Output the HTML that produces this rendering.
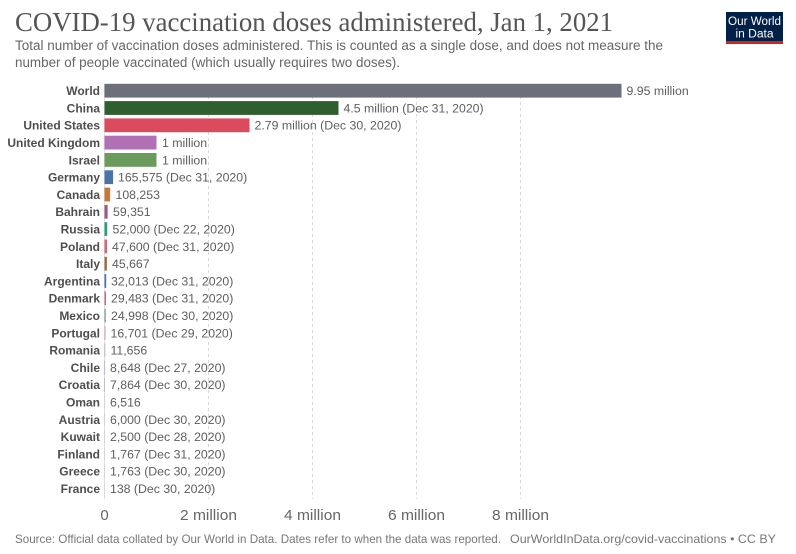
<!DOCTYPE html>
<html><head><meta charset="utf-8"><style>
html,body{margin:0;padding:0;background:#fff;}
svg{display:block;}
</style></head><body>
<svg width="796" height="554" viewBox="0 0 796 554" xmlns="http://www.w3.org/2000/svg">
<rect width="796" height="554" fill="#fff"/>
<text x="15" y="31" font-family="Liberation Serif, serif" font-size="27" fill="#555" textLength="598" lengthAdjust="spacingAndGlyphs">COVID-19 vaccination doses administered, Jan 1, 2021</text>
<text x="15" y="50" font-family="Liberation Sans, sans-serif" font-size="13.5" fill="#666" textLength="648" lengthAdjust="spacingAndGlyphs">Total number of vaccination doses administered. This is counted as a single dose, and does not measure the</text>
<text x="15" y="67" font-family="Liberation Sans, sans-serif" font-size="13.5" fill="#666" textLength="385" lengthAdjust="spacingAndGlyphs">number of people vaccinated (which usually requires two doses).</text>
<rect x="726" y="12" width="57" height="32" fill="#002147"/>
<rect x="726" y="41" width="57" height="3" fill="#ce261e"/>
<text x="754.5" y="25" text-anchor="middle" font-family="Liberation Sans, sans-serif" font-size="11.5" fill="#fff" textLength="53" lengthAdjust="spacingAndGlyphs">Our World</text>
<text x="754.5" y="37.5" text-anchor="middle" font-family="Liberation Sans, sans-serif" font-size="11.5" fill="#fff" textLength="38" lengthAdjust="spacingAndGlyphs">in Data</text>
<g stroke="#d8d8d8" stroke-width="1" stroke-dasharray="3,3">
<line x1="208.5" y1="84" x2="208.5" y2="499"/>
<line x1="312.5" y1="84" x2="312.5" y2="499"/>
<line x1="416.5" y1="84" x2="416.5" y2="499"/>
<line x1="520.5" y1="84" x2="520.5" y2="499"/>
</g>
<line x1="104.5" y1="84" x2="104.5" y2="499" stroke="#e0e0e0" stroke-width="1"/>
<g font-family="Liberation Sans, sans-serif" font-size="12" font-weight="bold" fill="#4e4e4e" text-anchor="end">
<text x="100" y="95.1">World</text>
<text x="100" y="112.4">China</text>
<text x="100" y="129.7">United States</text>
<text x="100" y="147">United Kingdom</text>
<text x="100" y="164.3">Israel</text>
<text x="100" y="181.6">Germany</text>
<text x="100" y="198.9">Canada</text>
<text x="100" y="216.2">Bahrain</text>
<text x="100" y="233.5">Russia</text>
<text x="100" y="250.8">Poland</text>
<text x="100" y="268.1">Italy</text>
<text x="100" y="285.4">Argentina</text>
<text x="100" y="302.7">Denmark</text>
<text x="100" y="320">Mexico</text>
<text x="100" y="337.3">Portugal</text>
<text x="100" y="354.6">Romania</text>
<text x="100" y="371.9">Chile</text>
<text x="100" y="389.2">Croatia</text>
<text x="100" y="406.5">Oman</text>
<text x="100" y="423.8">Austria</text>
<text x="100" y="441.1">Kuwait</text>
<text x="100" y="458.4">Finland</text>
<text x="100" y="475.7">Greece</text>
<text x="100" y="493">France</text>
</g>
<g>
<rect x="104.5" y="83.8" width="517" height="13.8" fill="#6d6f7b"/>
<rect x="104.5" y="101.1" width="234" height="13.8" fill="#2f5f2e"/>
<rect x="104.5" y="118.4" width="145" height="13.8" fill="#db4a5d"/>
<rect x="104.5" y="135.7" width="52" height="13.8" fill="#b16fb5"/>
<rect x="104.5" y="153" width="52" height="13.8" fill="#6c9b5e"/>
<rect x="104.5" y="170.3" width="8.6" height="13.8" fill="#4a74a5"/>
<rect x="104.5" y="187.6" width="5.6" height="13.8" fill="#c87834"/>
<rect x="104.5" y="204.9" width="3.1" height="13.8" fill="#9a5a86"/>
<rect x="104.5" y="222.2" width="2.7" height="13.8" fill="#2f9c7e"/>
<rect x="104.5" y="239.5" width="2.5" height="13.8" fill="#d36677"/>
<rect x="104.5" y="256.8" width="2.4" height="13.8" fill="#9a6e45"/>
<rect x="104.5" y="274.1" width="1.7" height="13.8" fill="#3b78b8"/>
<rect x="104.5" y="291.4" width="1.5" height="13.8" fill="#e05a98"/>
<rect x="104.5" y="308.7" width="1.3" height="13.8" fill="#6aaaa0"/>
<rect x="104.5" y="326" width="1" height="13.8" fill="#e4959e"/>
<rect x="104.5" y="343.3" width="0.8" height="13.8" fill="#b8a8c0"/>
<rect x="104.5" y="360.6" width="0.6" height="13.8" fill="#a0a0b8"/>
<rect x="104.5" y="377.9" width="0.5" height="13.8" fill="#a0a0b8"/>
<rect x="104.5" y="395.2" width="0.4" height="13.8" fill="#c0c0c0"/>
<rect x="104.5" y="412.5" width="0.4" height="13.8" fill="#c0c0c0"/>
<rect x="104.5" y="429.8" width="0.3" height="13.8" fill="#c0c0c0"/>
<rect x="104.5" y="447.1" width="0.3" height="13.8" fill="#c0c0c0"/>
<rect x="104.5" y="464.4" width="0.3" height="13.8" fill="#c0c0c0"/>
<rect x="104.5" y="481.7" width="0.2" height="13.8" fill="#c0c0c0"/>
</g>
<g font-family="Liberation Sans, sans-serif" font-size="12.3" fill="#5e5e5e">
<text x="626.5" y="95.1">9.95 million</text>
<text x="343.5" y="112.4">4.5 million (Dec 31, 2020)</text>
<text x="254.5" y="129.7">2.79 million (Dec 30, 2020)</text>
<text x="162" y="147">1 million</text>
<text x="162" y="164.3">1 million</text>
<text x="118" y="181.6">165,575 (Dec 31, 2020)</text>
<text x="115.5" y="198.9">108,253</text>
<text x="113" y="216.2">59,351</text>
<text x="112.5" y="233.5">52,000 (Dec 22, 2020)</text>
<text x="112" y="250.8">47,600 (Dec 31, 2020)</text>
<text x="112" y="268.1">45,667</text>
<text x="111" y="285.4">32,013 (Dec 31, 2020)</text>
<text x="111" y="302.7">29,483 (Dec 31, 2020)</text>
<text x="111" y="320">24,998 (Dec 30, 2020)</text>
<text x="110.5" y="337.3">16,701 (Dec 29, 2020)</text>
<text x="110.5" y="354.6">11,656</text>
<text x="110" y="371.9">8,648 (Dec 27, 2020)</text>
<text x="110" y="389.2">7,864 (Dec 30, 2020)</text>
<text x="110" y="406.5">6,516</text>
<text x="110" y="423.8">6,000 (Dec 30, 2020)</text>
<text x="110" y="441.1">2,500 (Dec 28, 2020)</text>
<text x="110" y="458.4">1,767 (Dec 31, 2020)</text>
<text x="110" y="475.7">1,763 (Dec 30, 2020)</text>
<text x="110" y="493">138 (Dec 30, 2020)</text>
</g>
<g font-family="Liberation Sans, sans-serif" font-size="15" fill="#666" text-anchor="middle">
<text x="104.5" y="520">0</text>
<text x="208.5" y="520" textLength="57" lengthAdjust="spacingAndGlyphs">2 million</text>
<text x="312.5" y="520" textLength="57" lengthAdjust="spacingAndGlyphs">4 million</text>
<text x="416.5" y="520" textLength="57" lengthAdjust="spacingAndGlyphs">6 million</text>
<text x="520.5" y="520" textLength="57" lengthAdjust="spacingAndGlyphs">8 million</text>
</g>
<g font-family="Liberation Sans, sans-serif" font-size="12" fill="#777">
<text x="15" y="543" textLength="486" lengthAdjust="spacingAndGlyphs">Source: Official data collated by Our World in Data. Dates refer to when the data was reported.</text>
<text x="510" y="543" textLength="266" lengthAdjust="spacingAndGlyphs">OurWorldInData.org/covid-vaccinations • CC BY</text>
</g>
</svg>
</body></html>
